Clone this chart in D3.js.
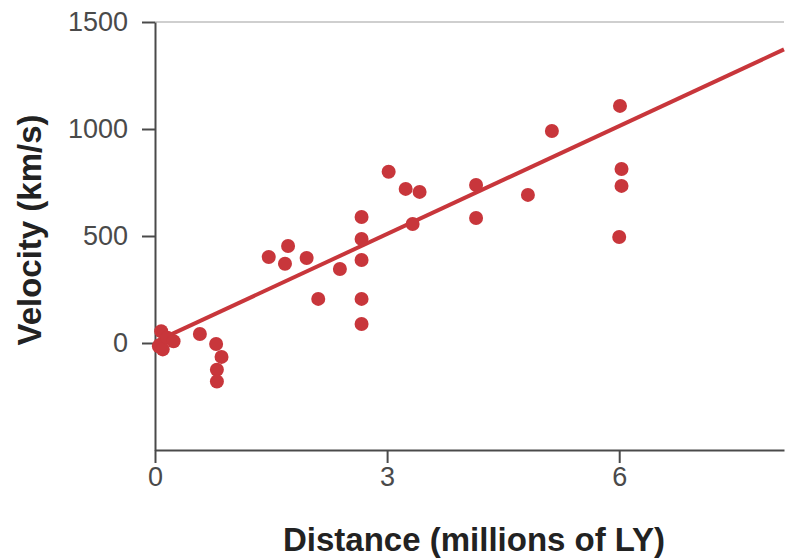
<!DOCTYPE html>
<html>
<head>
<meta charset="utf-8">
<script src="https://cdn.jsdelivr.net/npm/d3@7"></script>
<style>
  html, body { margin: 0; padding: 0; background: #fff; }
  svg { display: block; }
</style>
</head>
<body>
<svg id="chart" width="785" height="560"></svg>
<script>
// ---- data ----
const distances = [0.05, 0.08, 0.10, 0.16, 0.24,
  0.58, 0.79, 0.86, 0.80, 0.80,
  1.47, 1.72, 1.68, 1.96, 2.11, 2.39, 2.67, 2.67, 2.67, 2.67, 2.67,
  3.02, 3.24, 3.42, 3.33,
  4.15, 4.15, 4.82, 5.13,
  6.01, 6.03, 6.03, 6.00];
const velocities = [-15, 55, -30, 25, 8,
  42, -5, -65, -125, -180,
  402, 453, 370, 397, 206, 346, 589, 486, 388, 206, 89,
  800, 720, 706, 556,
  738, 584, 692, 991,
  1108, 813, 734, 495];
const fitDistances = [0, 8.13];
const fitVelocities = [5, 1372];
const xTicks = [0, 3, 6];
const yTicks = [0, 500, 1000, 1500];
const xTitle = "Distance (millions of LY)";
const yTitle = "Velocity (km/s)";

// ---- layout ----
const svg = d3.select("#chart");
const mLeft = 155, mRight = 784, mTop = 22, mBottom = 450;
const x = d3.scaleLinear().domain([0, 8.13]).range([mLeft, mRight]);
const y = d3.scaleLinear().domain([-500, 1500]).range([mBottom, mTop]);

const red = "#c8363b";
const axisColor = "#4a4a4a";
const font = "'Liberation Sans', Arial, Helvetica, sans-serif";

// top frame line
svg.append("line")
  .attr("x1", mLeft).attr("x2", mRight)
  .attr("y1", y(1500)).attr("y2", y(1500))
  .attr("stroke", "#cfcfcf").attr("stroke-width", 2);

// x axis
const xAxis = svg.append("g")
  .attr("transform", `translate(0,${mBottom})`)
  .call(d3.axisBottom(x).tickValues(xTicks).tickFormat(d3.format("d"))
    .tickSizeInner(13).tickSizeOuter(0).tickPadding(4));
xAxis.select(".domain").attr("stroke", axisColor).attr("stroke-width", 2);
xAxis.selectAll(".tick line").attr("stroke", axisColor).attr("stroke-width", 2);
xAxis.selectAll(".tick text").attr("fill", "#4a4a4a").attr("font-size", 27)
  .attr("font-family", font);

// y axis
const yAxis = svg.append("g")
  .attr("transform", `translate(${mLeft},0)`)
  .call(d3.axisLeft(y).tickValues(yTicks).tickFormat(d3.format("d"))
    .tickSizeInner(13).tickSizeOuter(0).tickPadding(14));
yAxis.select(".domain").attr("stroke", axisColor).attr("stroke-width", 2);
yAxis.selectAll(".tick line").attr("stroke", axisColor).attr("stroke-width", 2);
yAxis.selectAll(".tick text").attr("fill", "#4a4a4a").attr("font-size", 27)
  .attr("font-family", font);

// fit line
const fit = fitDistances.map((d, i) => [d, fitVelocities[i]]);
svg.append("path")
  .datum(fit)
  .attr("d", d3.line().x(d => x(d[0])).y(d => y(d[1])))
  .attr("stroke", red).attr("stroke-width", 4).attr("fill", "none");

// points
const pts = distances.map((d, i) => ({d, v: velocities[i]}));
svg.append("g").selectAll("circle").data(pts).join("circle")
  .attr("cx", p => x(p.d)).attr("cy", p => y(p.v))
  .attr("r", 7).attr("fill", red);

// titles
svg.append("text")
  .attr("x", 474).attr("y", 551)
  .attr("text-anchor", "middle")
  .attr("font-family", font).attr("font-weight", "bold")
  .attr("font-size", 33).attr("fill", "#222")
  .text(xTitle);

svg.append("text")
  .attr("transform", `translate(41,230) rotate(-90)`)
  .attr("text-anchor", "middle")
  .attr("font-family", font).attr("font-weight", "bold")
  .attr("font-size", 33).attr("fill", "#222")
  .text(yTitle);
</script>
</body>
</html>
